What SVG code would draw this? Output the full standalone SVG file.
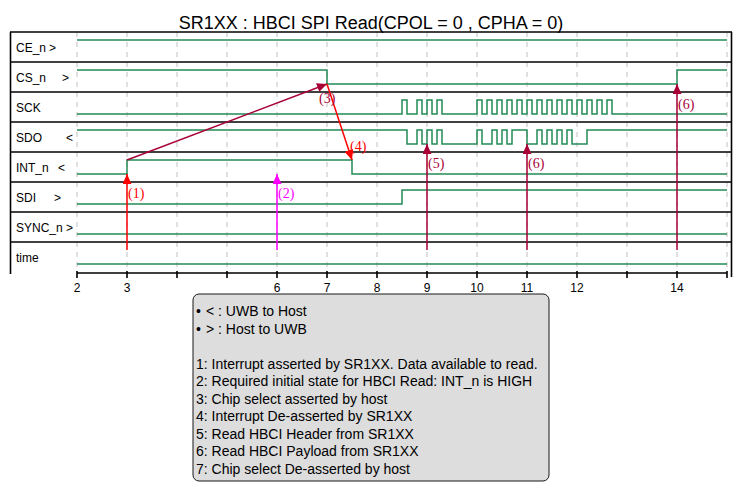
<svg xmlns="http://www.w3.org/2000/svg" width="743" height="501" viewBox="0 0 743 501">
<style>
.bg{fill:#FFFFFF}
.sep{stroke:#000;stroke-width:1.6;fill:none}
.grid{stroke:#C0C0C0;stroke-width:1;stroke-dasharray:5,5}
.wave{fill:none;stroke:#228B55;stroke-width:1.5}
.lbl{font-family:"Liberation Sans",Arial,sans-serif;font-size:12px;fill:#000}
.title{font-family:"Liberation Sans",Arial,sans-serif;font-size:18px;fill:#000}
.tick{font-family:"Liberation Sans",Arial,sans-serif;font-size:12px;fill:#000;text-anchor:middle}
.num{font-family:"Liberation Serif","Times New Roman",serif;font-size:14px}
.leg{font-family:"Liberation Sans",Arial,sans-serif;font-size:14px;fill:#000}
.red{stroke:#FF0000;fill:none;stroke-width:1.5}
.mag{stroke:#FF00FF;fill:none;stroke-width:1.5}
.crim{stroke:#A80036;fill:none;stroke-width:1.5}
</style>
<defs>
<marker id="ahRed" markerUnits="userSpaceOnUse" markerWidth="11" markerHeight="9" refX="10" refY="4.5" orient="auto"><path d="M0,0 L10,4.5 L0,9 z" fill="#FF0000"/></marker>
<marker id="ahMag" markerUnits="userSpaceOnUse" markerWidth="11" markerHeight="9" refX="10" refY="4.5" orient="auto"><path d="M0,0 L10,4.5 L0,9 z" fill="#FF00FF"/></marker>
<marker id="ahCrim" markerUnits="userSpaceOnUse" markerWidth="11" markerHeight="9" refX="10" refY="4.5" orient="auto"><path d="M0,0 L10,4.5 L0,9 z" fill="#A80036"/></marker>
</defs>
<rect class="bg" x="0" y="0" width="743" height="501"/>
<text class="title" x="371" y="29" text-anchor="middle">SR1XX : HBCI SPI Read(CPOL = 0 , CPHA = 0)</text>

<g id="grid">
<line class="grid" x1="77" y1="32" x2="77" y2="272"/>
<line class="grid" x1="127" y1="32" x2="127" y2="272"/>
<line class="grid" x1="177" y1="32" x2="177" y2="272"/>
<line class="grid" x1="227" y1="32" x2="227" y2="272"/>
<line class="grid" x1="277" y1="32" x2="277" y2="272"/>
<line class="grid" x1="327" y1="32" x2="327" y2="272"/>
<line class="grid" x1="377" y1="32" x2="377" y2="272"/>
<line class="grid" x1="427" y1="32" x2="427" y2="272"/>
<line class="grid" x1="477" y1="32" x2="477" y2="272"/>
<line class="grid" x1="527" y1="32" x2="527" y2="272"/>
<line class="grid" x1="577" y1="32" x2="577" y2="272"/>
<line class="grid" x1="627" y1="32" x2="627" y2="272"/>
<line class="grid" x1="677" y1="32" x2="677" y2="272"/>
<line class="grid" x1="727" y1="32" x2="727" y2="272"/>
</g>

<g id="frame">
<line class="sep" x1="10" y1="32" x2="732" y2="32"/>
<line class="sep" x1="10" y1="62" x2="732" y2="62"/>
<line class="sep" x1="10" y1="92" x2="732" y2="92"/>
<line class="sep" x1="10" y1="122" x2="732" y2="122"/>
<line class="sep" x1="10" y1="152" x2="732" y2="152"/>
<line class="sep" x1="10" y1="182" x2="732" y2="182"/>
<line class="sep" x1="10" y1="212" x2="732" y2="212"/>
<line class="sep" x1="10" y1="242" x2="732" y2="242"/>
<line class="sep" x1="10.5" y1="32" x2="10.5" y2="274"/>
<line class="sep" x1="731.5" y1="32" x2="731.5" y2="277"/>
</g>

<g id="CE_n">
<text class="lbl" x="16" y="52">CE_n<tspan x="49">&gt;</tspan></text>
<path class="wave" d="M77,40 H727"/>
</g>
<g id="CS_n">
<text class="lbl" x="16" y="82">CS_n<tspan x="62">&gt;</tspan></text>
<path class="wave" d="M77,70 H327 V84 H677 V70 H727"/>
</g>
<g id="SCK">
<text class="lbl" x="16" y="112">SCK</text>
<path class="wave" d="M77,114 H402 V100 H407 V114 H417 V100 H422 V114 H427 V100 H432 V114 H437 V100 H442 V114 H477 V100 H482 V114 H487 V100 H492 V114 H497 V100 H502 V114 H507 V100 H512 V114 H517 V100 H522 V114 H527 V100 H532 V114 H537 V100 H542 V114 H547 V100 H552 V114 H557 V100 H562 V114 H567 V100 H572 V114 H577 V100 H582 V114 H587 V100 H592 V114 H597 V100 H602 V114 H607 V100 H612 V114 H727"/>
</g>
<g id="SDO">
<text class="lbl" x="16" y="142">SDO<tspan x="66">&lt;</tspan></text>
<path class="wave" d="M77,130 H407 V144 H417 V130 H422 V144 H427 V130 H432 V144 H437 V130 H442 V144 H477 V130 H482 V144 H492 V130 H497 V144 H502 V130 H507 V144 H512 V130 H527 V144 H537 V130 H542 V144 H547 V130 H552 V144 H557 V130 H562 V144 H567 V130 H572 V144 H587 V130 H727"/>
</g>
<g id="INT_n">
<text class="lbl" x="16" y="172">INT_n<tspan x="58">&lt;</tspan></text>
<path class="wave" d="M77,174 H127 V160 H352 V174 H727"/>
</g>
<g id="SDI">
<text class="lbl" x="16" y="202">SDI<tspan x="54">&gt;</tspan></text>
<path class="wave" d="M77,204 H402 V190 H727"/>
</g>
<g id="SYNC_n">
<text class="lbl" x="16" y="232">SYNC_n<tspan x="66">&gt;</tspan></text>
<path class="wave" d="M77,234 H727"/>
</g>
<g id="time">
<text class="lbl" x="16" y="262">time</text>
<path class="wave" d="M77,264 H727"/>
</g>

<g id="axis">
<path class="sep" d="M77,273 H727 M77,271 V278 M127,271 V278 M177,271 V278 M227,271 V278 M277,271 V278 M327,271 V278 M377,271 V278 M427,271 V278 M477,271 V278 M527,271 V278 M577,271 V278 M627,271 V278 M677,271 V278 M727,271 V278"/>
<text class="tick" x="77" y="292">2</text>
<text class="tick" x="127" y="292">3</text>
<text class="tick" x="277" y="292">6</text>
<text class="tick" x="327" y="292">7</text>
<text class="tick" x="377" y="292">8</text>
<text class="tick" x="427" y="292">9</text>
<text class="tick" x="477" y="292">10</text>
<text class="tick" x="527" y="292">11</text>
<text class="tick" x="577" y="292">12</text>
<text class="tick" x="677" y="292">14</text>
</g>

<g id="connectors">
<line class="red" x1="127" y1="250" x2="127" y2="174" marker-end="url(#ahRed)"/>
<line class="mag" x1="277" y1="250" x2="277" y2="174" marker-end="url(#ahMag)"/>
<line class="crim" x1="127" y1="160" x2="327" y2="84" marker-end="url(#ahCrim)"/>
<line class="red" x1="327" y1="84" x2="352" y2="160" marker-end="url(#ahRed)"/>
<line class="crim" x1="427" y1="250" x2="427" y2="144" marker-end="url(#ahCrim)"/>
<line class="crim" x1="527" y1="250" x2="527" y2="144" marker-end="url(#ahCrim)"/>
<line class="crim" x1="677" y1="250" x2="677" y2="84" marker-end="url(#ahCrim)"/>
<text class="num" x="128" y="198" fill="#FF0000">(1)</text>
<text class="num" x="278" y="198" fill="#FF00FF">(2)</text>
<text class="num" x="319" y="103" fill="#A80036">(3)</text>
<text class="num" x="350" y="151" fill="#FF0000">(4)</text>
<text class="num" x="428" y="168" fill="#A80036">(5)</text>
<text class="num" x="528" y="168" fill="#A80036">(6)</text>
<text class="num" x="678" y="109" fill="#A80036">(6)</text>
</g>

<g id="legend">
<rect x="193" y="294" width="356" height="187" rx="6" ry="6" fill="#DDDDDD" stroke="#181818" stroke-width="1"/>
<text class="leg" x="196" y="316">•<tspan x="206">&lt; : UWB to Host</tspan></text>
<text class="leg" x="196" y="333.5">•<tspan x="206">&gt; : Host to UWB</tspan></text>
<text class="leg" x="196" y="368.5">1: Interrupt asserted by SR1XX. Data available to read.</text>
<text class="leg" x="196" y="386">2: Required initial state for HBCI Read: INT_n is HIGH</text>
<text class="leg" x="196" y="403.5">3: Chip select asserted by host</text>
<text class="leg" x="196" y="421">4: Interrupt De-asserted by SR1XX</text>
<text class="leg" x="196" y="438.5">5: Read HBCI Header from SR1XX</text>
<text class="leg" x="196" y="456">6: Read HBCI Payload from SR1XX</text>
<text class="leg" x="196" y="473.5">7: Chip select De-asserted by host</text>
</g>
</svg>
